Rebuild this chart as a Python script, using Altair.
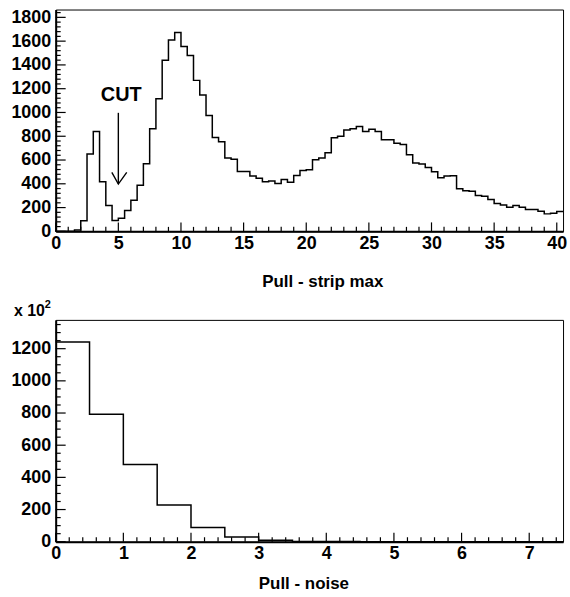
import altair as alt
import pandas as pd
import numpy as np

# ---------------- data ----------------
# Upper histogram: "Pull - strip max", 81 bins of width 0.5 from 0 to 40.5
strip_bin_width = 0.5
strip_counts = [
    0, 0, 0, 12, 90, 650, 840, 418, 217, 92,
    111, 175, 261, 387, 568, 863, 1116, 1439, 1609, 1673,
    1554, 1479, 1270, 1147, 974, 790, 754, 618, 607, 504,
    504, 466, 446, 418, 424, 403, 437, 413, 469, 512,
    518, 602, 618, 662, 788, 800, 852, 863, 882, 840,
    859, 840, 771, 771, 742, 730, 645, 574, 567, 537,
    502, 451, 465, 468, 359, 342, 338, 302, 295, 267,
    234, 222, 203, 217, 203, 184, 184, 170, 147, 153,
    167,
]
# Lower histogram: "Pull - noise" (x 10^2), 15 bins of width 0.5 from 0 to 7.5
noise_bin_width = 0.5
noise_counts = [1241, 792, 480, 229, 89, 29, 9, 2, 1, 0, 0, 0, 0, 0, 0]

strip_x_ticks = list(range(0, 41, 5))
strip_y_ticks = list(range(0, 1801, 200))
noise_x_ticks = list(range(0, 8))
noise_y_ticks = list(range(0, 1201, 200))

strip_x_domain = [0, 40.5]
strip_y_domain = [0, 1866]
noise_x_domain = [0, 7.5]
noise_y_domain = [0, 1379]

# CUT annotation (data coordinates)
cut_text = "CUT"
cut_text_x = [5.23]
cut_text_y = [1096]
arrow_seg = ["shaft", "shaft", "head", "head", "head"]
arrow_x = [5.0, 5.0, 4.48, 5.0, 5.67]
arrow_y = [997, 398, 496, 398, 496]
arrow_order = [0, 1, 0, 1, 2]

FONT = "Liberation Sans"
W, H = 510, 223
LBL = 18


def step_frame(counts, width):
    edges = [i * width for i in range(len(counts) + 1)]
    vals = list(counts) + [counts[-1]]
    return pd.DataFrame({"x": edges, "y": vals})


def x_axis(values, title, tx, ty):
    return alt.Axis(values=values, format="d", tickSize=0, grid=False,
                    domainColor="black", domainWidth=2, labelFont=FONT,
                    labelFontWeight="bold", labelFontSize=LBL, labelColor="black",
                    labelPadding=3, labelFlush=False, title=title, titleFont=FONT,
                    titleFontWeight="bold", titleFontSize=17, titleColor="black",
                    titleX=tx, titleY=ty, titleAlign="center",
                    titleBaseline="alphabetic")


def y_axis(values):
    return alt.Axis(values=values, format="d", tickSize=0, grid=False,
                    domainColor="black", domainWidth=2, labelFont=FONT,
                    labelFontWeight="bold", labelFontSize=LBL, labelColor="black",
                    labelPadding=5, labelFlush=False, title=None)


def panel(counts, width, xdom, ydom, xmaj, xmin, ymaj, ymin, xtitle, tx, ty, extras):
    xsc = alt.Scale(domain=xdom, nice=False, zero=False)
    ysc = alt.Scale(domain=ydom, nice=False, zero=False)
    xa = x_axis(xmaj, xtitle, tx, ty)
    ya = y_axis(ymaj)
    line = alt.Chart(step_frame(counts, width)).mark_line(
        interpolate="step-after", color="black", strokeWidth=1.5
    ).encode(x=alt.X("x:Q", scale=xsc, axis=xa), y=alt.Y("y:Q", scale=ysc, axis=ya))
    layers = [line]
    for vals, ln in ((xmaj, 9), (xmin, 4.5)):
        layers.append(
            alt.Chart(pd.DataFrame({"x": vals})).mark_rule(color="black", strokeWidth=1.2)
            .encode(x=alt.X("x:Q", scale=xsc, axis=xa),
                    y=alt.value(H), y2=alt.value(H - ln)))
    for vals, ln in ((ymaj, 10), (ymin, 5)):
        layers.append(
            alt.Chart(pd.DataFrame({"y": vals})).mark_rule(color="black", strokeWidth=1.2)
            .encode(y=alt.Y("y:Q", scale=ysc, axis=ya),
                    x=alt.value(0), x2=alt.value(ln)))
    layers += extras(xsc, ysc, xa, ya)
    return alt.layer(*layers).properties(width=W, height=H)


def top_extras(xsc, ysc, xa, ya):
    cut_label = alt.Chart(pd.DataFrame({"x": cut_text_x, "y": cut_text_y})).mark_text(
        text=cut_text, font=FONT, fontWeight="bold", fontSize=20, color="black",
        align="center", baseline="alphabetic"
    ).encode(x=alt.X("x:Q", scale=xsc, axis=xa), y=alt.Y("y:Q", scale=ysc, axis=ya))
    arrow = alt.Chart(pd.DataFrame({"x": arrow_x, "y": arrow_y, "seg": arrow_seg,
                                    "o": arrow_order})).mark_line(
        color="black", strokeWidth=1.4
    ).encode(x=alt.X("x:Q", scale=xsc, axis=xa), y=alt.Y("y:Q", scale=ysc, axis=ya),
             detail="seg:N", order="o:Q")
    return [cut_label, arrow]


def bottom_extras(xsc, ysc, xa, ya):
    mult = alt.Chart(pd.DataFrame({"a": [0]})).mark_text(
        text="x 10", font=FONT, fontWeight="bold", fontSize=16, color="black",
        align="left", baseline="alphabetic"
    ).encode(x=alt.value(-42), y=alt.value(-4))
    mult_exp = alt.Chart(pd.DataFrame({"a": [0]})).mark_text(
        text="2", font=FONT, fontWeight="bold", fontSize=11, color="black",
        align="left", baseline="alphabetic"
    ).encode(x=alt.value(-11), y=alt.value(-12))
    return [mult, mult_exp]


sxt = [v for v in range(0, 41) if v % 5]
syt = [v for v in range(0, 1866, 40) if v % 200]
nxt = [round(v * 0.2, 1) for v in range(0, 38) if v % 5]
nyt = [v for v in range(0, 1379, 50) if v % 200]

top = panel(strip_counts, strip_bin_width, strip_x_domain, strip_y_domain,
            strip_x_ticks, sxt, strip_y_ticks, syt, "Pull - strip max", 268, 55,
            top_extras)
bottom = panel(noise_counts, noise_bin_width, noise_x_domain, noise_y_domain,
               noise_x_ticks, nxt, noise_y_ticks, nyt, "Pull - noise", 249, 47,
               bottom_extras)

chart = alt.vconcat(top, bottom, spacing=89, bounds="flush").properties(
    padding={"left": 10, "top": 6, "right": 2, "bottom": 2},
    background="white",
).configure_view(stroke="black", strokeWidth=1)

chart.save("out.html", embed_options={"renderer": "svg", "actions": False})
